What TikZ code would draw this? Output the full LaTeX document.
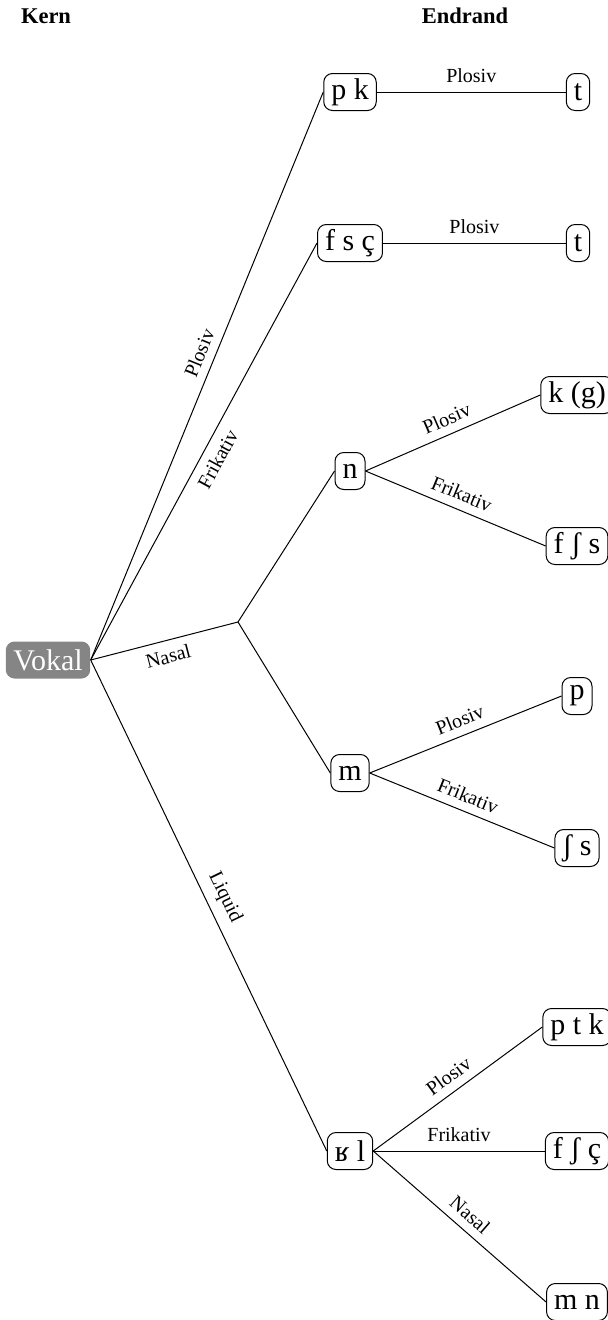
\documentclass[tikz,border=0pt]{standalone}
\usepackage{fontspec}
\setmainfont{Liberation Serif}
\begin{document}
\begin{tikzpicture}[x=0.4pt,y=-0.4pt,
  box/.style={draw, rounded corners=3.5pt, minimum height=14.8pt, inner xsep=3pt, inner ysep=0pt, font=\fontsize{12}{14}\selectfont, line width=0.4pt},
  lbl/.style={font=\fontsize{8}{10}\selectfont, sloped, midway},
  hdr/.style={font=\fontsize{9}{11}\selectfont\bfseries},
  line/.style={line width=0.4pt}]
\useasboundingbox (0,0) rectangle (607,1320);
\definecolor{vokalgray}{HTML}{858585}
\node[hdr] (kern) at (46,16) {Kern};
\node[hdr] (endrand) at (465,16) {Endrand};
\node[fill=vokalgray, text=white, rounded corners=3.5pt, minimum height=14.8pt, inner xsep=3pt, inner ysep=0pt, font=\fontsize{12}{14}\selectfont] (vokal) at (48,660) {Vokal};
% first level
\node[box] (pk) at (350,92) {p k};
\node[box] (fsc) at (350,243) {f s ç};
\coordinate (nas) at (238,622);
\node[box] (n) at (350,471) {n};
\node[box] (m) at (350,773) {m};
\node[box] (rl) at (350,1151) {ʁ l};
% second level
\node[box] (t1) at (578,92) {t};
\node[box] (t2) at (578,243) {t};
\node[box] (kg) at (577,395) {k (g)};
\node[box] (fss) at (577,546) {f ʃ s};
\node[box] (p) at (577,696) {p};
\node[box] (ss) at (577,848) {ʃ s};
\node[box] (ptk) at (577,1027) {p t k};
\node[box] (fsc2) at (577,1151) {f ʃ ç};
\node[box] (mn) at (577,1302) {m n};
% edges from Vokal
\draw[line] (vokal.east) -- node[lbl,above,pos=0.53]{Plosiv} (pk.west);
\draw[line] (vokal.east) -- node[lbl,below]{Frikativ} (fsc.west);
\draw[line] (vokal.east) -- node[lbl,below]{Nasal} (nas);
\draw[line] (vokal.east) -- node[lbl,above]{Liquid} (rl.west);
\draw[line] (nas) -- (n.west);
\draw[line] (nas) -- (m.west);
% second level edges
\draw[line] (pk.east) -- node[lbl,above]{Plosiv} (t1.west);
\draw[line] (fsc.east) -- node[lbl,above]{Plosiv} (t2.west);
\draw[line] (n.east) -- node[lbl,above]{Plosiv} (kg.west);
\draw[line] (n.east) -- node[lbl,above]{Frikativ} (fss.west);
\draw[line] (m.east) -- node[lbl,above]{Plosiv} (p.west);
\draw[line] (m.east) -- node[lbl,above]{Frikativ} (ss.west);
\draw[line] (rl.east) -- node[lbl,above]{Plosiv} (ptk.west);
\draw[line] (rl.east) -- node[lbl,above]{Frikativ} (fsc2.west);
\draw[line] (rl.east) -- node[lbl,above]{Nasal} (mn.west);
\end{tikzpicture}
\end{document}
